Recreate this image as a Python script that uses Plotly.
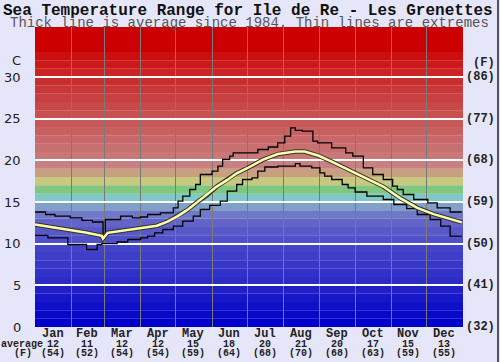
import plotly.graph_objects as go

# ---------------- data ----------------
months = ["Jan", "Feb", "Mar", "Apr", "May", "Jun", "Jul", "Aug", "Sep", "Oct", "Nov", "Dec"]
month_days = [31, 28, 31, 30, 31, 30, 31, 31, 30, 31, 30, 31]
avg_c = [12, 11, 12, 12, 15, 18, 20, 21, 20, 17, 15, 13]
avg_f = [54, 52, 54, 54, 59, 64, 68, 70, 68, 63, 59, 55]

c_ticks = [0, 5, 10, 15, 20, 25, 30]
f_tick_labels = ["(32)", "(41)", "(50)", "(59)", "(68)", "(77)", "(86)"]

max_days = [1, 10, 18, 31, 41, 50, 59, 61, 74, 84, 91, 97, 108, 119, 123, 127, 133, 138, 142, 152,
            157, 161, 167, 170, 191, 200, 208, 214, 219, 223, 229, 238, 242, 254, 266, 272, 281, 289, 298, 306,
            310, 315, 324, 336, 344, 355, 365]
max_vals = [13.8, 13.5, 13.3, 13.1, 12.8, 12.6, 10.7, 12.9, 13.3, 13.1, 13.2, 13.5, 13.7, 14.3, 15.1, 15.7, 16.5, 17.1, 18.3, 18.7,
            19.3, 20.1, 20.5, 20.9, 21.3, 21.6, 22.1, 22.9, 23.9, 23.6, 23.5, 22.3, 22.1, 21.5, 20.9, 20.5, 19.1, 18.3, 17.7, 16.9,
            16.5, 15.9, 15.3, 14.9, 14.3, 13.8, 13.8]

min_days = [1, 12, 29, 45, 54, 58, 71, 80, 91, 97, 103, 110, 119, 127, 136, 142, 150, 159, 165, 173,
            178, 186, 191, 197, 208, 223, 227, 237, 244, 248, 254, 263, 268, 274, 284, 298, 307, 318, 327, 338,
            347, 355, 365]
min_vals = [11.0, 10.7, 9.9, 9.3, 9.9, 10.0, 10.2, 10.5, 10.7, 10.9, 11.3, 11.7, 12.1, 12.7, 13.3, 14.1, 14.6, 15.1, 16.3, 17.1,
            17.7, 17.9, 18.7, 19.2, 19.3, 19.6, 19.3, 19.1, 18.5, 18.1, 17.7, 17.1, 16.7, 16.2, 15.7, 15.3, 14.7, 14.2, 13.5, 12.9,
            12.1, 10.9, 10.9]

avg_days = [1, 16, 29, 44, 58, 59, 63, 75, 91, 105, 114, 122, 131, 139, 148, 156, 165, 173, 182, 195,
            208, 223, 231, 243, 254, 266, 270, 284, 298, 312, 327, 341, 355, 365]
avg_vals = [12.3, 12.0, 11.7, 11.35, 10.95, 10.6, 11.3, 11.55, 11.9, 12.15, 12.65, 13.25, 14.05, 14.95, 15.85, 16.85, 17.65, 18.45, 19.05, 20.05,
            20.75, 21.05, 21.05, 20.55, 19.85, 19.05, 18.8, 17.85, 16.85, 15.5, 14.3, 13.55, 13.0, 12.55]

band_lo = list(range(0, 34))
band_hi = list(range(1, 34)) + [36]
band_colors = ["#0000c8", "#0808c8", "#1010c8", "#1818c8", "#2020c8", "#2c2cc8", "#3232c8", "#3838c8", "#3e3ec8", "#4444c8",
               "#5050c8", "#5858c8", "#6464c8", "#7078c8", "#80a0c8", "#80c8c8", "#80c880", "#c8c880", "#c8a080", "#c88080",
               "#c87878", "#c87070", "#c86868", "#c86060", "#c85858", "#c85050", "#c84848", "#c84040", "#c83838", "#c83030",
               "#cc2424", "#cc1a1a", "#cc1010", "#cc0000"]

# ---------------- layout helpers ----------------
W, H = 500, 362
L, R, T, B = 35, 37, 27, 35
PW, PH = W - L - R, H - T - B

def px_x(x):
    return (x - L) / PW

def px_y(y):
    return (H - B - y) / PH

month_starts = []
s = 1
for d in month_days:
    month_starts.append(s)
    s += d
month_mid = [st + d / 2 - 0.5 for st, d in zip(month_starts, month_days)]

fig = go.Figure()

fig.add_trace(go.Scatter(x=max_days, y=max_vals, mode="lines", line=dict(color="black", width=1.3, shape="hv"),
                         hoverinfo="skip", showlegend=False))
fig.add_trace(go.Scatter(x=min_days, y=min_vals, mode="lines", line=dict(color="black", width=1.3, shape="hv"),
                         hoverinfo="skip", showlegend=False))
fig.add_trace(go.Scatter(x=avg_days, y=avg_vals, mode="lines", line=dict(color="#333333", width=4.5),
                         hoverinfo="skip", showlegend=False))
fig.add_trace(go.Scatter(x=avg_days, y=avg_vals, mode="lines", line=dict(color="#ffffa8", width=2.5),
                         hoverinfo="skip", showlegend=False))

shapes = []
for lo, hi, col in zip(band_lo, band_hi, band_colors):
    shapes.append(dict(type="rect", xref="paper", yref="y", x0=0, x1=1, y0=lo, y1=hi,
                       fillcolor=col, line=dict(width=0), layer="below"))
shapes.append(dict(type="line", xref="paper", yref="paper", x0=px_x(498), x1=px_x(498), y0=px_y(0), y1=px_y(H),
                   line=dict(color="#555555", width=2)))

mono = "Liberation Mono, Courier New, monospace"
ann = []
ann.append(dict(text="<b>Sea Temperature Range for Ile de Re - Les Grenettes</b>", xref="paper", yref="paper",
                x=px_x(248), y=px_y(11), xanchor="center", yanchor="middle", showarrow=False,
                font=dict(family=mono, size=16, color="#111111")))
ann.append(dict(text="Thick line is average since 1984. Thin lines are extremes", xref="paper", yref="paper",
                x=px_x(249.5), y=px_y(23.5), xanchor="center", yanchor="middle", showarrow=False,
                font=dict(family=mono, size=14, color="#555555")))
ann.append(dict(text="C", xref="paper", yref="paper", x=px_x(23), y=px_y(61), xanchor="right", yanchor="middle",
                showarrow=False, font=dict(family="DejaVu Sans", size=13, color="#222222")))
ann.append(dict(text="<b>(F)</b>", xref="paper", yref="paper", x=px_x(471), y=px_y(63), xanchor="left", yanchor="middle",
                showarrow=False, font=dict(family=mono, size=12, color="#222222")))
for c, f in zip(c_ticks, f_tick_labels):
    ann.append(dict(text=str(c), xref="paper", yref="y", x=px_x(23), y=c, xanchor="right", yanchor="middle",
                    showarrow=False, font=dict(family="DejaVu Sans", size=13, color="#222222")))
    ann.append(dict(text="<b>" + f + "</b>", xref="paper", yref="y", x=px_x(464), y=c, xanchor="left", yanchor="middle",
                    showarrow=False, font=dict(family=mono, size=12, color="#222222")))
for m, mid, ac, af in zip(months, month_mid, avg_c, avg_f):
    ann.append(dict(text="<b>" + m + "</b>", xref="x", yref="paper", x=mid, y=px_y(334), xanchor="center", yanchor="middle",
                    showarrow=False, font=dict(family=mono, size=12, color="#222222")))
    ann.append(dict(text="<b>" + str(ac) + "</b>", xref="x", yref="paper", x=mid, y=px_y(344), xanchor="center", yanchor="middle",
                    showarrow=False, font=dict(family=mono, size=10, color="#222222")))
    ann.append(dict(text="<b>(" + str(af) + ")</b>", xref="x", yref="paper", x=mid, y=px_y(353), xanchor="center", yanchor="middle",
                    showarrow=False, font=dict(family=mono, size=10, color="#222222")))
ann.append(dict(text="<b>average</b>", xref="paper", yref="paper", x=px_x(22), y=px_y(344), xanchor="center", yanchor="middle",
                showarrow=False, font=dict(family=mono, size=10, color="#222222")))
ann.append(dict(text="<b>(F)</b>", xref="paper", yref="paper", x=px_x(22.5), y=px_y(353), xanchor="center", yanchor="middle",
                showarrow=False, font=dict(family=mono, size=10, color="#222222")))

fig.update_layout(
    width=W, height=H,
    margin=dict(l=L, r=R, t=T, b=B, pad=0),
    paper_bgcolor="#e6e6fa",
    plot_bgcolor="#e6e6fa",
    shapes=shapes,
    annotations=ann,
    xaxis=dict(range=[1, 366], tickmode="array", tickvals=month_starts[1:], showticklabels=False,
               showgrid=True, gridcolor="#7a7a7a", gridwidth=1, zeroline=False, ticks="", showline=False,
               fixedrange=True),
    yaxis=dict(range=[0, 36], tickmode="array", tickvals=c_ticks[1:], showticklabels=False,
               showgrid=True, gridcolor="white", gridwidth=2, zeroline=False, ticks="", showline=False,
               fixedrange=True),
)

fig.write_html("out.html", config={"displayModeBar": False},
               post_script="document.body.style.margin='0';document.body.style.overflow='hidden';")
